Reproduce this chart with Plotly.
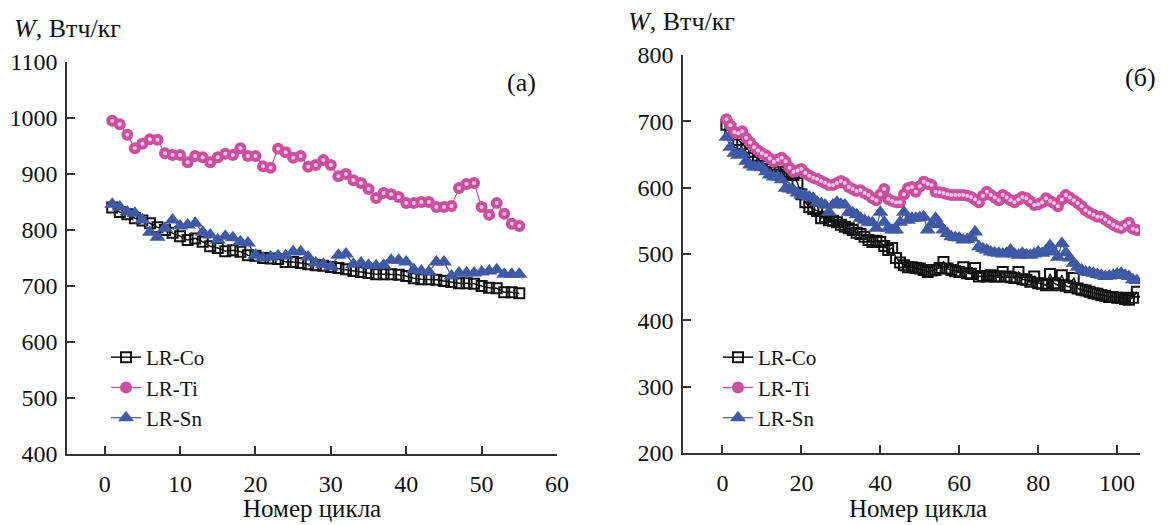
import plotly.graph_objects as go

# ---- panel (а): 55 cycles ----
cycles_a = list(range(1, 56))
co_a = [840, 832, 828, 821, 817, 812, 805, 800, 795, 789, 782, 785, 779, 771, 768,
        762, 764, 761, 755, 754, 750, 749, 748, 743, 743, 741, 739, 737, 736, 734,
        732, 730, 727, 725, 723, 721, 721, 721, 720, 718, 714, 712, 712, 711, 709,
        707, 705, 705, 704, 700, 697, 696, 689, 689, 687]
ti_a = [995, 989, 970, 946, 954, 962, 961, 937, 934, 934, 921, 932, 930, 921, 930,
        936, 934, 946, 932, 932, 914, 911, 945, 939, 929, 932, 913, 916, 925, 916,
        896, 900, 889, 884, 873, 857, 866, 864, 859, 848, 848, 850, 850, 841, 841,
        843, 875, 882, 884, 841, 827, 848, 829, 811, 807]
sn_a = [846, 841, 832, 830, 818, 796, 787, 803, 818, 807, 809, 812, 796, 791, 782,
        789, 786, 779, 777, 755, 750, 752, 754, 754, 761, 761, 752, 741, 739, 734,
        755, 757, 739, 741, 737, 736, 737, 746, 746, 743, 729, 727, 725, 743, 743,
        718, 723, 723, 723, 725, 727, 729, 721, 721, 721]

# ---- panel (б): 105 cycles ----
cycles_b = list(range(1, 106))
co_b = [695, 688, 680, 672, 666, 660, 654, 648, 643, 638, 633, 628, 624, 620, 617,
        624, 621, 619, 607, 590, 578, 571, 568, 565, 554, 556, 551, 550, 548, 544,
        541, 539, 536, 532, 530, 526, 521, 518, 520, 518, 512, 506, 509, 494, 487,
        483, 480, 480, 479, 478, 476, 473, 475, 476, 479, 488, 478, 476, 474, 473,
        480, 471, 470, 479, 466, 467, 466, 468, 466, 466, 473, 466, 465, 464, 473,
        462, 461, 458, 466, 456, 455, 453, 470, 456, 453, 468, 452, 450, 464, 448,
        446, 445, 443, 441, 440, 438, 437, 435, 435, 434, 434, 432, 431, 434, 443]
ti_b = [703, 694, 684, 682, 685, 675, 668, 661, 656, 652, 649, 644, 639, 642, 645,
        640, 630, 624, 626, 628, 622, 618, 615, 613, 610, 607, 604, 604, 607, 610,
        607, 601, 598, 595, 596, 592, 589, 584, 581, 590, 598, 583, 580, 578, 578,
        590, 599, 601, 594, 602, 609, 606, 604, 594, 593, 592, 590, 589, 589, 589,
        589, 588, 586, 582, 578, 588, 594, 589, 585, 581, 589, 585, 581, 578, 582,
        586, 584, 579, 574, 575, 578, 584, 580, 577, 572, 582, 589, 585, 581, 577,
        572, 566, 562, 559, 556, 556, 552, 548, 544, 541, 539, 543, 547, 538, 536]
sn_b = [676, 661, 652, 649, 652, 640, 634, 631, 631, 630, 624, 619, 616, 616, 612,
        599, 598, 596, 592, 589, 588, 586, 584, 578, 576, 574, 563, 574, 578, 575,
        574, 563, 562, 559, 554, 551, 548, 547, 539, 563, 548, 539, 536, 536, 548,
        563, 551, 554, 554, 555, 556, 536, 545, 554, 544, 536, 531, 526, 525, 524,
        521, 522, 524, 533, 511, 508, 506, 503, 502, 501, 500, 501, 506, 500, 498,
        501, 499, 498, 500, 503, 501, 505, 513, 503, 495, 516, 502, 494, 486, 480,
        476, 473, 472, 471, 469, 468, 466, 467, 468, 470, 471, 468, 466, 461, 460]

names = ["LR-Co", "LR-Ti", "LR-Sn"]
FONT = "Liberation Serif, Times New Roman, serif"
BLACK = "#111111"
PINK = "#cc4f9f"
BLUE = "#3f59a6"

fig = go.Figure()


def add_panel(x, co, ti, sn, xa, ya, legend):
    fig.add_trace(go.Scatter(
        x=x, y=co, name=names[0], mode="lines+markers", xaxis=xa, yaxis=ya,
        legend=legend,
        line=dict(color=BLACK, width=1.5),
        marker=dict(symbol="square-open", size=10, color=BLACK,
                    line=dict(width=2, color=BLACK))))
    fig.add_trace(go.Scatter(
        x=x, y=ti, name=names[1], mode="lines+markers", xaxis=xa, yaxis=ya,
        legend=legend,
        line=dict(color=PINK, width=1.2),
        marker=dict(symbol="circle", size=12, color=PINK,
                    line=dict(width=0))))
    # sphere highlight on the circles
    fig.add_trace(go.Scatter(
        x=x, y=ti, mode="markers", xaxis=xa, yaxis=ya, showlegend=False,
        hoverinfo="skip",
        marker=dict(symbol="circle", size=4, color="#f3c6e2", line=dict(width=0))))
    fig.add_trace(go.Scatter(
        x=x, y=sn, name=names[2], mode="lines+markers", xaxis=xa, yaxis=ya,
        legend=legend,
        line=dict(color=BLUE, width=1.2),
        marker=dict(symbol="triangle-up", size=14, color=BLUE,
                    line=dict(width=0))))


add_panel(cycles_a, co_a, ti_a, sn_a, "x", "y", "legend")
add_panel(cycles_b, co_b, ti_b, sn_b, "x2", "y2", "legend2")

W, H = 1169, 525


def px_x(p):
    return p / W


def px_y(p):
    return 1 - p / H


axis_common = dict(
    showline=True, linecolor="#333333", linewidth=1.5,
    ticks="inside", ticklen=8, tickwidth=1.5, tickcolor="#333333",
    showgrid=False, zeroline=False, automargin=False,
    tickfont=dict(family=FONT, size=24, color="#111111"),
)

fig.update_layout(
    width=W, height=H,
    margin=dict(l=0, r=0, t=0, b=0),
    paper_bgcolor="white", plot_bgcolor="white",
    showlegend=True,
    xaxis=dict(domain=[px_x(67), px_x(557)], range=[-5, 60], dtick=10,
               anchor="y", ticklabelstandoff=7, **axis_common),
    yaxis=dict(domain=[px_y(454), px_y(62)], range=[400, 1100], dtick=100,
               anchor="x", ticklabelstandoff=3, **axis_common),
    xaxis2=dict(domain=[px_x(683), px_x(1140)], range=[-10, 105.8], dtick=20,
                anchor="y2", ticklabelstandoff=7, **axis_common),
    yaxis2=dict(domain=[px_y(453), px_y(55)], range=[200, 800], dtick=100,
                anchor="x2", ticklabelstandoff=3, **axis_common),
    legend=dict(x=px_x(106), y=px_y(337), xanchor="left", yanchor="top",
                bgcolor="rgba(0,0,0,0)", tracegroupgap=0, itemwidth=30,
                font=dict(family=FONT, size=21, color="#111111")),
    legend2=dict(x=px_x(718), y=px_y(337), xanchor="left", yanchor="top",
                 bgcolor="rgba(0,0,0,0)", tracegroupgap=0, itemwidth=30,
                 font=dict(family=FONT, size=21, color="#111111")),
)

annotations = [
    dict(text="<i>W</i>, Втч/кг", x=px_x(12), y=px_y(28), xanchor="left",
         yanchor="middle", size=26),
    dict(text="<i>W</i>, Втч/кг", x=px_x(626), y=px_y(22), xanchor="left",
         yanchor="middle", size=26),
    dict(text="(а)", x=px_x(521), y=px_y(83), xanchor="center", yanchor="middle",
         size=26),
    dict(text="(б)", x=px_x(1140), y=px_y(77), xanchor="center", yanchor="middle",
         size=26),
    dict(text="Номер цикла", x=px_x(312), y=px_y(524), xanchor="center",
         yanchor="bottom", size=25),
    dict(text="Номер цикла", x=px_x(918), y=px_y(524), xanchor="center",
         yanchor="bottom", size=25),
]
for a in annotations:
    size = a.pop("size")
    a.update(xref="paper", yref="paper", showarrow=False,
             font=dict(family=FONT, size=size, color="#111111"))
    fig.add_annotation(**a)

fig.write_html("out.html")
